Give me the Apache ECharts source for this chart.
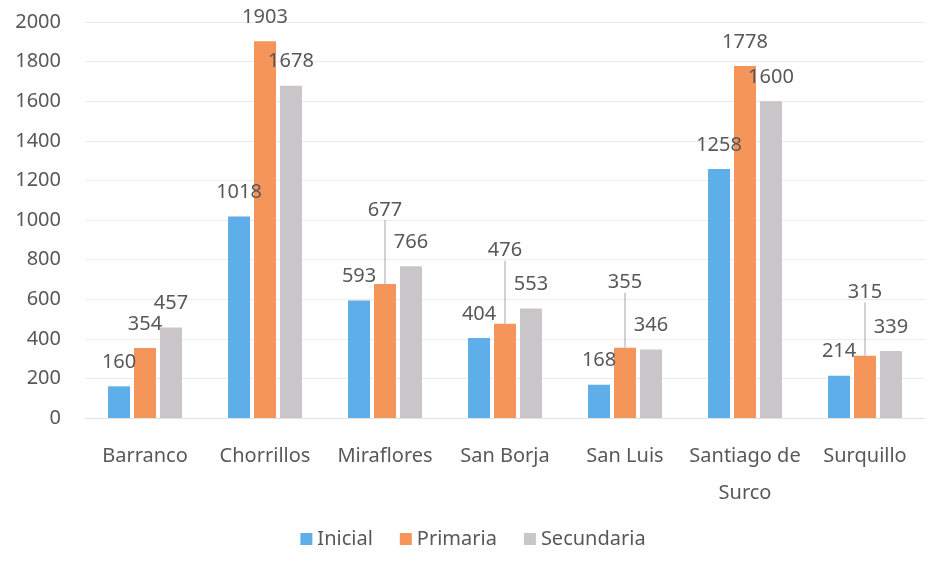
<!DOCTYPE html>
<html>
<head>
<meta charset="utf-8">
<script src="https://cdn.jsdelivr.net/npm/echarts@6/dist/echarts.min.js"></script>
<style>
  html, body { margin: 0; padding: 0; background: #fff; }
  #chart { width: 946px; height: 580px; }
</style>
</head>
<body>
<div id="chart"></div>
<script>
// distritos
const categories = ['Barranco', 'Chorrillos', 'Miraflores', 'San Borja', 'San Luis', 'Santiago de\nSurco', 'Surquillo']
const inicial = [160, 1018, 593, 404, 168, 1258, 214]
const primaria = [354, 1903, 677, 476, 355, 1778, 315]
const secundaria = [457, 1678, 766, 553, 346, 1600, 339]
const yTicks = [0, 200, 400, 600, 800, 1000, 1200, 1400, 1600, 1800, 2000]

// labels moved up by hand (with leader line), px
const primariaLift = [0, 0, 50, 49, 41, 0, 39]

const textColor = '#585858'
const fontFamily = '"Noto Sans", "Open Sans", sans-serif'
const fontSize = 20

const chart = echarts.init(document.getElementById('chart'))

function serie(name, data, color, lift) {
  return {
    name: name,
    type: 'bar',
    data: data.map((v, i) => ({
      value: v,
      labelLine: { show: !!(lift && lift[i]) }
    })),
    barWidth: 22,
    barGap: '18%',
    itemStyle: { color: color },
    label: {
      show: true,
      position: 'top',
      distance: 14,
      color: textColor,
      fontSize: fontSize,
      fontFamily: fontFamily
    },
    labelLine: {
      lineStyle: { color: '#a6a6a6', width: 1 }
    },
    labelLayout: lift ? function (p) {
      return { dy: -lift[p.dataIndex] }
    } : null,
    animation: false
  }
}

chart.setOption({
  backgroundColor: '#ffffff',
  textStyle: { fontFamily: fontFamily },
  grid: { left: 85, right: 21, top: 22, bottom: 162 },
  legend: {
    bottom: 26,
    left: 'center',
    itemWidth: 12,
    itemHeight: 12,
    itemGap: 27,
    icon: 'rect',
    textStyle: { color: textColor, fontSize: fontSize, fontFamily: fontFamily },
    data: ['Inicial', 'Primaria', 'Secundaria']
  },
  xAxis: {
    type: 'category',
    data: categories,
    axisTick: { show: false },
    axisLine: { lineStyle: { color: '#e2e2e2' } },
    axisLabel: {
      interval: 0,
      color: textColor,
      fontSize: fontSize,
      margin: 20,
      lineHeight: 37,
      fontFamily: fontFamily
    }
  },
  yAxis: {
    type: 'value',
    min: yTicks[0],
    max: yTicks[yTicks.length - 1],
    interval: yTicks[1] - yTicks[0],
    axisLine: { show: false },
    axisTick: { show: false },
    splitLine: { lineStyle: { color: '#ececec' } },
    axisLabel: {
      color: textColor,
      fontSize: fontSize,
      margin: 24,
      fontFamily: fontFamily,
      formatter: v => String(v)
    }
  },
  series: [
    serie('Inicial', inicial, '#5eaeea', null),
    serie('Primaria', primaria, '#f6955a', primariaLift),
    serie('Secundaria', secundaria, '#c9c5c8', null)
  ]
})
</script>
</body>
</html>
